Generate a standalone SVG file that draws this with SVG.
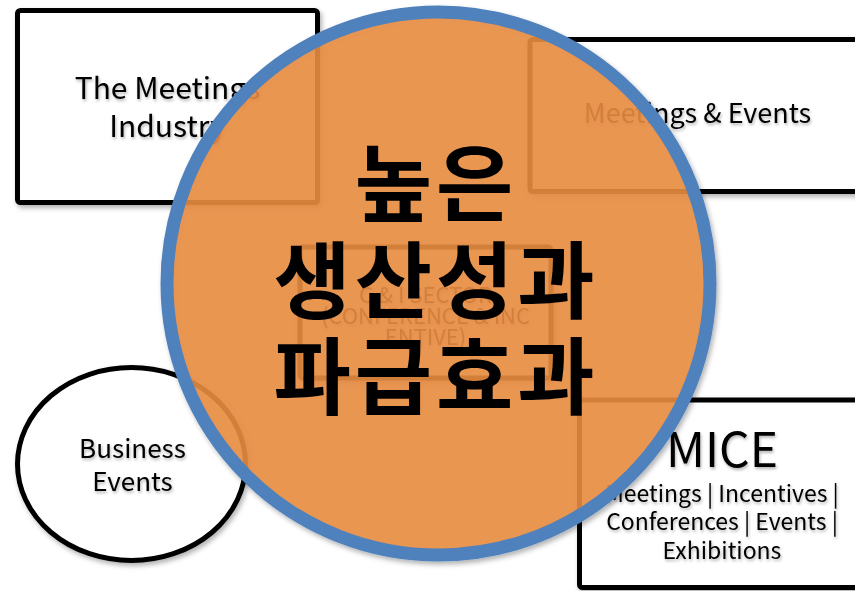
<svg xmlns="http://www.w3.org/2000/svg" width="855" height="591" viewBox="0 0 855 591">
  <defs>
    <filter id="shadow" x="-10%" y="-10%" width="125%" height="125%">
      <feDropShadow dx="2" dy="3" stdDeviation="2.5" flood-color="#000" flood-opacity="0.3"/>
    </filter>
    <filter id="tshadow" x="-10%" y="-20%" width="125%" height="150%">
      <feDropShadow dx="1" dy="2" stdDeviation="1.5" flood-color="#000" flood-opacity="0.3"/>
    </filter>
  </defs>
  <style>
    .box { fill: #ffffff; stroke: #000000; stroke-width: 5; filter: url(#shadow); }
    .lbl { font-family: "Noto Sans CJK KR", "Noto Sans", sans-serif; fill: #000000; text-anchor: middle; filter: url(#tshadow); }
    .big { font-size: 30px; }
    .mid { font-size: 27px; }
    .bus { font-size: 26px; }
    .small { font-size: 23px; }
    .ci { font-size: 22px; }
    .kr { font-family: "Noto Sans CJK KR", sans-serif; font-weight: 700; font-size: 84px; letter-spacing: 4px; fill: #000000; text-anchor: middle; }
  </style>
  <rect width="855" height="591" fill="#ffffff"/>

  <g id="meetings-industry">
    <rect class="box" x="17.5" y="10.5" width="300" height="192" rx="3"/>
    <text class="lbl big" x="167.5" y="99">The Meetings</text>
    <text class="lbl big" x="167.5" y="137">Industry</text>
  </g>

  <g id="meetings-events">
    <rect class="box" x="530" y="39.5" width="335" height="152" rx="3"/>
    <text class="lbl mid" x="697.5" y="123">Meetings &amp; Events</text>
  </g>

  <g id="ci-sector">
    <rect class="box" x="300" y="247" width="251" height="131" rx="3"/>
    <text class="lbl ci" x="425.5" y="303">C &amp; I SECTOR</text>
    <text class="lbl ci" x="425.5" y="324">(CONFERENCE &amp; INC</text>
    <text class="lbl ci" x="425.5" y="345">ENTIVE)</text>
  </g>

  <g id="business-events">
    <ellipse class="box" cx="131.5" cy="464" rx="114" ry="96.5"/>
    <text class="lbl bus" x="132.5" y="458">Business</text>
    <text class="lbl bus" x="132.5" y="491">Events</text>
  </g>

  <g id="mice">
    <rect class="box" x="579.5" y="400" width="285" height="187.5" rx="3"/>
    <text class="lbl" style="font-size:48px" x="722" y="467">MICE</text>
    <text class="lbl small" x="722" y="502">Meetings | Incentives |</text>
    <text class="lbl small" x="722" y="530">Conferences | Events |</text>
    <text class="lbl small" x="722" y="559">Exhibitions</text>
  </g>

  <g id="high-productivity">
    <circle cx="438.5" cy="283.5" r="271.5" fill="#EA8D42" fill-opacity="0.88" stroke="#4F81BD" stroke-width="13" filter="url(#shadow)"/>
    <text class="kr" x="436" y="215">높은</text>
    <text class="kr" x="436" y="312">생산성과</text>
    <text class="kr" x="436" y="408">파급효과</text>
  </g>
</svg>
